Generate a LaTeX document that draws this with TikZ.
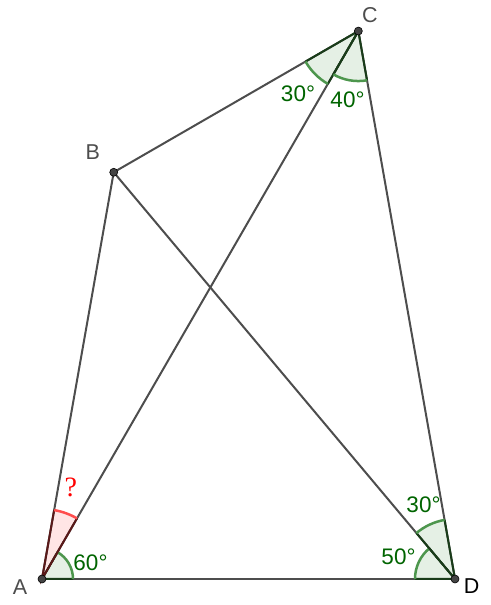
\documentclass[tikz,border=0pt]{standalone}
\usepackage{fontspec}
\setmainfont{Liberation Sans}
\newfontfamily\qserif{Liberation Serif}
\usetikzlibrary{calc}
\definecolor{seg}{RGB}{77,77,77}
\definecolor{ggreen}{RGB}{0,100,0}
\definecolor{garc}{RGB}{77,150,77}
\definecolor{gedge}{RGB}{25,60,25}
\definecolor{gfillc}{RGB}{229,240,229}
\definecolor{rarc}{RGB}{255,77,77}
\definecolor{redge}{RGB}{90,25,25}
\definecolor{rfillc}{RGB}{255,229,229}
\definecolor{ptfill}{RGB}{68,68,68}
\newcommand\angsec[7]{%
  \fill[#5] (#1) -- ++(#2:#4) arc[start angle=#2,end angle=#3,radius=#4] -- cycle;
}
\newcommand\angline[7]{%
  \draw[#7,line width=2pt] ($(#1)+(#2:#4)$) -- (#1) -- ($(#1)+(#3:#4)$);
  \draw[#6,line width=2.5pt] ($(#1)+(#2:#4)$) arc[start angle=#2,end angle=#3,radius=#4];
}
\tikzset{
  segline/.style={draw=seg,line width=2pt},
  ptdot/.style={circle,fill=ptfill,draw=black,line width=0.6pt,inner sep=0pt,minimum size=8pt},
  ptlabel/.style={text=seg,font=\fontsize{21.5}{21.5}\selectfont},
  anglabel/.style={text=ggreen,font=\fontsize{22.5}{22.5}\selectfont},
}
\begin{document}
\begin{tikzpicture}[x=1pt,y=1pt]
\useasboundingbox (0,0) rectangle (490,605);
\coordinate (A) at (42,26);
\coordinate (D) at (455,26);
\coordinate (B) at ($(A)+(80:413)$);
\coordinate (C) at ($(A)+(60:632.7)$);
% sector fills
\angsec{A}{0}{60}{31}{gfillc}{}{}
\angsec{A}{60}{80}{70}{rfillc}{}{}
\angsec{D}{130}{180}{40}{gfillc}{}{}
\angsec{D}{100}{130}{60}{gfillc}{}{}
\angsec{C}{210}{240}{61}{gfillc}{}{}
\angsec{C}{240}{280}{50}{gfillc}{}{}
% segments
\draw[segline] (A) -- (B);
\draw[segline] (B) -- (C);
\draw[segline] (C) -- (D);
\draw[segline] (D) -- (A);
\draw[segline] (A) -- (C);
\draw[segline] (B) -- (D);
% sector outlines
\angline{A}{0}{60}{31}{}{garc}{gedge}
\angline{A}{60}{80}{70}{}{rarc}{redge}
\angline{D}{130}{180}{40}{}{garc}{gedge}
\angline{D}{100}{130}{60}{}{garc}{gedge}
\angline{C}{210}{240}{61}{}{garc}{gedge}
\angline{C}{240}{280}{50}{}{garc}{gedge}
% points
\node[ptdot] (pA) at (A) {};
\node[ptdot] (pB) at (B) {};
\node[ptdot] (pC) at (C) {};
\node[ptdot] (pD) at (D) {};
% labels
\node[ptlabel] (lA) at (20,18) {A};
\node[ptlabel] (lB) at (92.7,453.3) {B};
\node[ptlabel] (lC) at (370,590) {C};
\node[ptlabel,text=black] (lD) at (471.7,19) {D};
\node[anglabel] (aC1) at (298,511) {30°};
\node[anglabel] (aC2) at (347.5,505) {40°};
\node[anglabel] (aA) at (90.5,42) {60°};
\node[anglabel] (aD1) at (423.5,100) {30°};
\node[anglabel] (aD2) at (398.5,48) {50°};
\node[text=red,font=\qserif\fontsize{28}{28}\selectfont] (q) at (70.8,118) {?};
\end{tikzpicture}
\end{document}
